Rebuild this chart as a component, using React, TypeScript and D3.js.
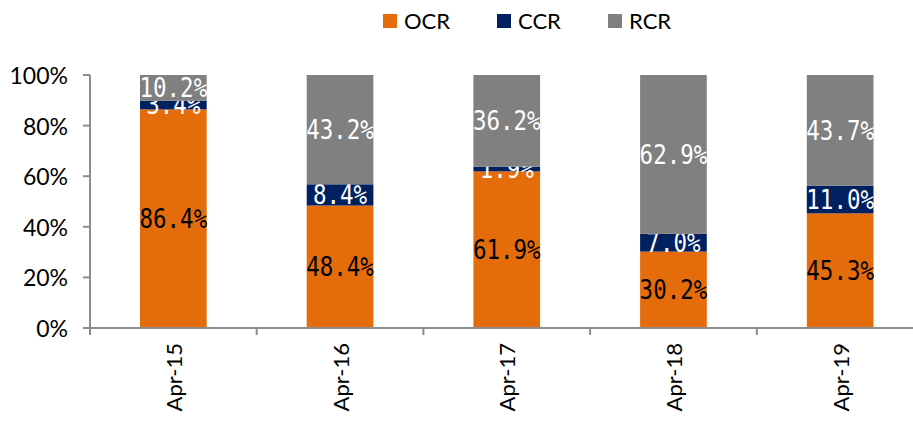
import React from "react";
import * as d3 from "d3";

const categories = ["Apr-15", "Apr-16", "Apr-17", "Apr-18", "Apr-19"];
const seriesNames = ["OCR", "CCR", "RCR"];
const ocr = [86.4, 48.4, 61.9, 30.2, 45.3];
const ccr = [3.4, 8.4, 1.9, 7.0, 11.0];
const rcr = [10.2, 43.2, 36.2, 62.9, 43.7];
const yTicks = [0, 20, 40, 60, 80, 100];

const colors: Record<string, string> = { OCR: "#E46C0A", CCR: "#002060", RCR: "#808080" };
const labelColors: Record<string, string> = { OCR: "#000", CCR: "#fff", RCR: "#fff" };

export default function App() {
  const W = 913, H = 423;
  const left = 90, top = 75, bottom = 328;
  const x = d3.scaleBand<string>().domain(categories).range([left, left + 5 * 166.7]).paddingInner(0.6).paddingOuter(0.3);
  const y = d3.scaleLinear().domain([0, 100]).range([bottom, top]);
  const rows = categories.map((c, i) => ({ cat: c, OCR: ocr[i], CCR: ccr[i], RCR: rcr[i] }));
  const stack = d3.stack<any>().keys(seriesNames)(rows);
  const step = x.step();
  const legendItems = [
    { name: "OCR", mx: 383, tx: 404 },
    { name: "CCR", mx: 497, tx: 518 },
    { name: "RCR", mx: 608, tx: 629 },
  ];
  const axisColor = "#8c8c8c";
  return (
    <svg width={W} height={H} style={{ position: "absolute", left: 0, top: 0, background: "#fff" }}>
      {legendItems.map((l) => (
        <g key={l.name}>
          <rect x={l.mx} y={14} width={14} height={14} fill={colors[l.name]} />
          <text x={l.tx} y={29} fontFamily="Lato" fontSize={22} fill="#000">{l.name}</text>
        </g>
      ))}
      {stack.map((s) => (
        <g key={s.key}>
          {s.map((d, i) => {
            const y0 = y(d[0]), y1 = y(Math.min(d[1], 100));
            const cx = (x(categories[i]) as number) + x.bandwidth() / 2;
            const cy = (y0 + y1) / 2;
            return (
              <g key={i}>
                <rect x={x(categories[i])} y={y1} width={x.bandwidth()} height={y0 - y1} fill={colors[s.key]} />
                <g transform={`translate(${cx},${cy}) scale(1,1.2)`}>
                  <text textAnchor="middle" dominantBaseline="central" fontFamily="DejaVu Sans Mono" fontSize={22.5} fill={labelColors[s.key]}>
                    {(d.data[s.key] as number).toFixed(1) + "%"}
                  </text>
                </g>
              </g>
            );
          })}
        </g>
      ))}
      <line x1={left} x2={left} y1={top} y2={bottom + 7} stroke={axisColor} strokeWidth={2} />
      <line x1={left - 7} x2={W} y1={bottom} y2={bottom} stroke={axisColor} strokeWidth={2} />
      {yTicks.map((t) => (
        <g key={t}>
          <line x1={left - 7} x2={left} y1={y(t)} y2={y(t)} stroke={axisColor} strokeWidth={2} />
          <text x={68} y={y(t)} textAnchor="end" dominantBaseline="central" fontFamily="Lato" fontSize={23} fill="#000">{t + "%"}</text>
        </g>
      ))}
      {categories.map((c, i) => (
        <g key={c}>
          {i > 0 && <line x1={left + i * step} x2={left + i * step} y1={bottom} y2={bottom + 7} stroke={axisColor} strokeWidth={2} />}
          <text transform={`translate(${(x(c) as number) + x.bandwidth() / 2},343) rotate(-90)`} textAnchor="end" dominantBaseline="central" fontFamily="Lato" fontSize={22} fill="#000">{c}</text>
        </g>
      ))}
    </svg>
  );
}
